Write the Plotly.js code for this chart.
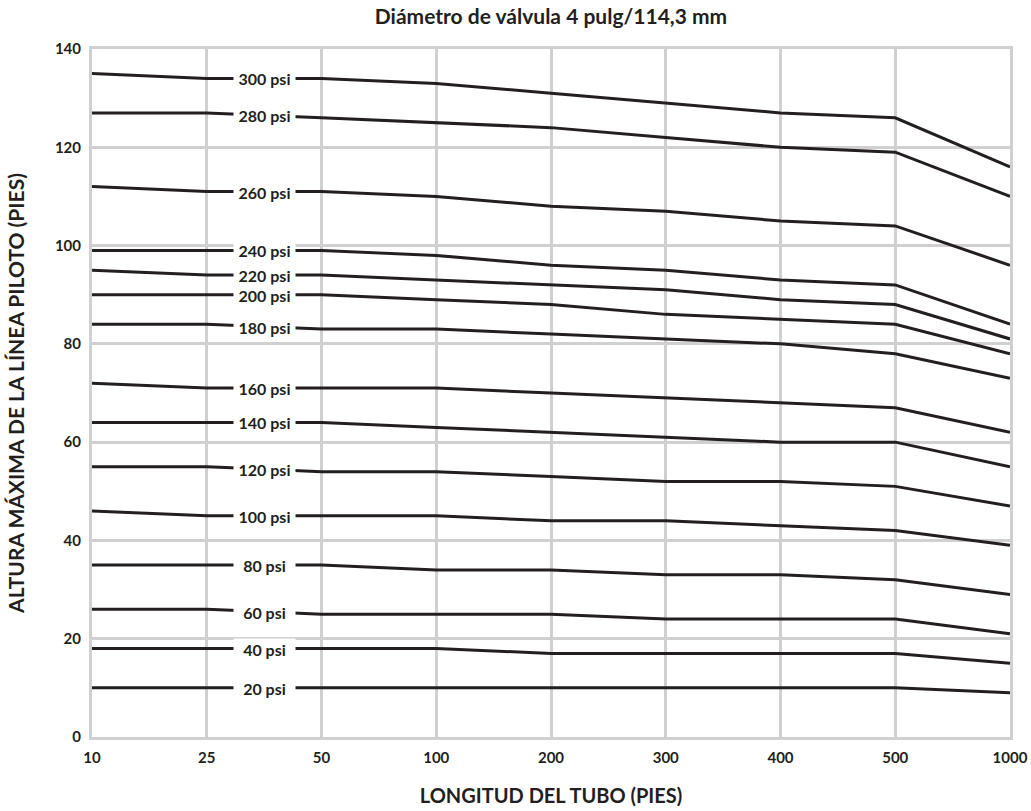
<!DOCTYPE html>
<html>
<head>
<meta charset="utf-8">
<script src="https://cdn.plot.ly/plotly-3.0.1.min.js"></script>
<style>html,body{margin:0;padding:0;background:#fff}#chart{width:1031px;height:811px}</style>
</head>
<body>
<div id="chart"></div>
<script>
// Tube length categories (feet)
const lengths = ['10', '25', '50', '100', '200', '300', '400', '500', '1000'];
const yTicks = [0, 20, 40, 60, 80, 100, 120, 140];

// Maximum pilot line height (feet) for each pressure
const p300 = [135, 134, 134, 133, 131, 129, 127, 126, 116];
const p280 = [127, 127, 126, 125, 124, 122, 120, 119, 110];
const p260 = [112, 111, 111, 110, 108, 107, 105, 104, 96];
const p240 = [99, 99, 99, 98, 96, 95, 93, 92, 84];
const p220 = [95, 94, 94, 93, 92, 91, 89, 88, 81];
const p200 = [90, 90, 90, 89, 88, 86, 85, 84, 78];
const p180 = [84, 84, 83, 83, 82, 81, 80, 78, 73];
const p160 = [72, 71, 71, 71, 70, 69, 68, 67, 62];
const p140 = [64, 64, 64, 63, 62, 61, 60, 60, 55];
const p120 = [55, 55, 54, 54, 53, 52, 52, 51, 47];
const p100 = [46, 45, 45, 45, 44, 44, 43, 42, 39];
const p80  = [35, 35, 35, 34, 34, 33, 33, 32, 29];
const p60  = [26, 26, 25, 25, 25, 24, 24, 24, 21];
const p40  = [18, 18, 18, 18, 17, 17, 17, 17, 15];
const p20  = [10, 10, 10, 10, 10, 10, 10, 10, 9];

const seriesNames = ['300 psi','280 psi','260 psi','240 psi','220 psi','200 psi','180 psi','160 psi','140 psi','120 psi','100 psi','80 psi','60 psi','40 psi','20 psi'];
const seriesValues = [p300,p280,p260,p240,p220,p200,p180,p160,p140,p120,p100,p80,p60,p40,p20];

const FONT = 'Lato, "Open Sans", "DejaVu Sans", sans-serif';
const INK = '#231f20';
const GRID = '#d0d0d0';

const traces = seriesValues.map((vals, i) => ({
  type: 'scatter',
  mode: 'lines',
  x: lengths,
  y: vals,
  name: seriesNames[i],
  line: {color: INK, width: 3},
  hoverinfo: 'skip'
}));

const annotations = seriesValues.map((vals, i) => ({
  xref: 'x', yref: 'y',
  x: 1.5,
  y: (vals[1] + vals[2]) / 2,
  text: '<b>' + seriesNames[i] + '</b>',
  showarrow: false,
  bgcolor: '#ffffff',
  width: 61,
  height: 20,
  borderpad: 0,
  font: {family: FONT, size: 16, color: INK}
}));

const layout = {
  width: 1031,
  height: 811,
  margin: {l: 92, r: 21, t: 49, b: 74},
  paper_bgcolor: '#ffffff',
  plot_bgcolor: '#ffffff',
  showlegend: false,
  title: {
    text: '<b>Diámetro de válvula 4 pulg/114,3 mm</b>',
    font: {family: FONT, size: 21, color: INK},
    x: 0.5, xref: 'paper', xanchor: 'center',
    y: 0.98, yref: 'container', yanchor: 'middle'
  },
  xaxis: {
    type: 'category',
    categoryorder: 'array',
    categoryarray: lengths,
    tickvals: lengths,
    ticktext: lengths.map(v => '<b>' + v + '</b>'),
    range: [0, 8],
    showgrid: true,
    gridcolor: GRID,
    gridwidth: 3,
    zeroline: false,
    showline: true,
    linecolor: GRID,
    linewidth: 3,
    mirror: true,
    ticks: '',
    tickfont: {family: FONT, size: 15, color: INK},
    ticklabelstandoff: 5,
    title: {
      text: '<b>LONGITUD DEL TUBO (PIES)</b>',
      font: {family: FONT, size: 20, color: INK},
      standoff: 24
    },
    fixedrange: true
  },
  yaxis: {
    range: [0, 140],
    tickvals: yTicks,
    ticktext: yTicks.map(v => '<b>' + v + '</b>'),
    showgrid: true,
    gridcolor: GRID,
    gridwidth: 3,
    zeroline: false,
    showline: true,
    linecolor: GRID,
    linewidth: 3,
    mirror: true,
    ticks: '',
    tickfont: {family: FONT, size: 15, color: INK},
    ticklabelstandoff: 5,
    title: {
      text: '<b>ALTURA MÁXIMA DE LA LÍNEA PILOTO (PIES)</b>',
      font: {family: FONT, size: 21, color: INK},
      standoff: 25
    },
    fixedrange: true
  },
  annotations: annotations
};

Plotly.newPlot('chart', traces, layout, {displayModeBar: false, staticPlot: true});
</script>
</body>
</html>
